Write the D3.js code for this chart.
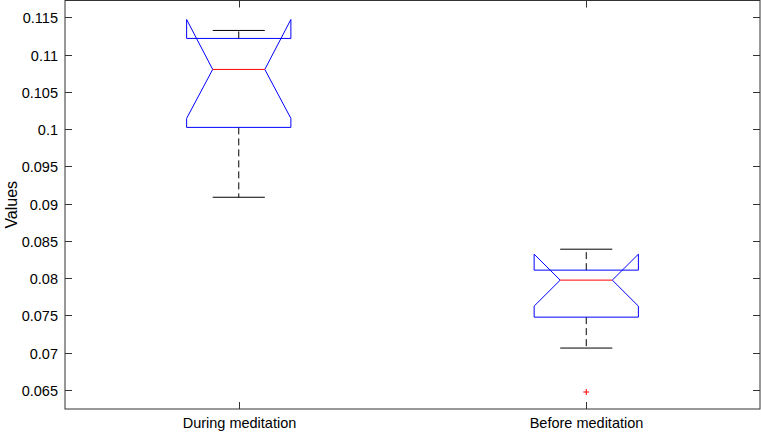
<!DOCTYPE html>
<html>
<head>
  <style>
    body { margin: 0; background: #fff; }
    text { font-family: "Liberation Sans", Arial, sans-serif; }
  </style>
</head>
<body>
  <div id="chart"></div>
  <script src="https://d3js.org/d3.v7.min.js"></script>
  <script>
    // Box statistics
    const categories = ["During meditation", "Before meditation"];
    const q1 = [0.10025, 0.07478];
    const medians = [0.10803, 0.07975];
    const q3 = [0.11219, 0.08109];
    const notchLow = [0.10146, 0.07626];
    const notchHigh = [0.11473, 0.08323];
    const whiskerLow = [0.09087, 0.07063];
    const whiskerHigh = [0.11326, 0.08390];
    const outliers = [[], [0.06473]];
    const yTicks = [0.065, 0.07, 0.075, 0.08, 0.085, 0.09, 0.095, 0.1, 0.105, 0.11, 0.115];

    const width = 761, height = 433;
    const plotLeft = 65, plotRight = 760, plotTop = 0.5, plotBottom = 409;

    const svg = d3.select("#chart")
      .append("svg")
      .attr("width", width)
      .attr("height", height);

    const x = d3.scaleLinear().domain([0.5, 2.5]).range([plotLeft, plotRight]);
    const y = d3.scaleLinear().domain([0.06245, 0.11728]).range([plotBottom, plotTop]);

    const axisColor = "#333";
    const tickLen = 7;

    // Frame
    svg.append("rect")
      .attr("x", plotLeft).attr("y", plotTop)
      .attr("width", plotRight - plotLeft).attr("height", plotBottom - plotTop)
      .attr("fill", "none").attr("stroke", axisColor).attr("stroke-width", 1);

    // Y ticks (left and right, inward)
    const yt = svg.append("g");
    yTicks.forEach(v => {
      const py = Math.round(y(v)) + 0.5;
      yt.append("line").attr("x1", plotLeft).attr("x2", plotLeft + tickLen)
        .attr("y1", py).attr("y2", py).attr("stroke", axisColor);
      yt.append("line").attr("x1", plotRight - tickLen).attr("x2", plotRight)
        .attr("y1", py).attr("y2", py).attr("stroke", axisColor);
      yt.append("text")
        .attr("x", plotLeft - 7).attr("y", py)
        .attr("dy", "0.35em")
        .attr("text-anchor", "end")
        .attr("font-size", 14.5)
        .attr("fill", "#000")
        .text(d3.format("")(v));
    });

    // X ticks (bottom and top, inward)
    categories.forEach((c, i) => {
      const px = Math.round(x(i + 1)) + 0.5;
      svg.append("line").attr("x1", px).attr("x2", px)
        .attr("y1", plotBottom - tickLen).attr("y2", plotBottom).attr("stroke", axisColor);
      svg.append("line").attr("x1", px).attr("x2", px)
        .attr("y1", plotTop).attr("y2", plotTop + tickLen).attr("stroke", axisColor);
      svg.append("text")
        .attr("x", px).attr("y", plotBottom + 19)
        .attr("text-anchor", "middle")
        .attr("font-size", 14.5)
        .attr("fill", "#000")
        .text(c);
    });

    // Y label
    svg.append("text")
      .attr("transform", `translate(17, ${(plotTop + plotBottom) / 2}) rotate(-90)`)
      .attr("text-anchor", "middle")
      .attr("font-size", 16)
      .attr("fill", "#000")
      .text("Values");

    // Boxes
    const boxHalf = 0.15, notchHalf = 0.075, capHalf = 0.075;
    categories.forEach((c, i) => {
      const cx = i + 1;
      const g = svg.append("g");

      // whiskers (dashed)
      [[q3[i], whiskerHigh[i]], [q1[i], whiskerLow[i]]].forEach(([a, b]) => {
        g.append("line")
          .attr("x1", x(cx)).attr("x2", x(cx))
          .attr("y1", y(a)).attr("y2", y(b))
          .attr("stroke", "#000").attr("stroke-dasharray", "7,4");
      });
      // caps
      [whiskerHigh[i], whiskerLow[i]].forEach(v => {
        g.append("line")
          .attr("x1", x(cx - capHalf)).attr("x2", x(cx + capHalf))
          .attr("y1", y(v)).attr("y2", y(v))
          .attr("stroke", "#000");
      });

      // notched box
      const pts = [
        [cx - boxHalf, q1[i]],
        [cx - boxHalf, notchLow[i]],
        [cx - notchHalf, medians[i]],
        [cx - boxHalf, notchHigh[i]],
        [cx - boxHalf, q3[i]],
        [cx + boxHalf, q3[i]],
        [cx + boxHalf, notchHigh[i]],
        [cx + notchHalf, medians[i]],
        [cx + boxHalf, notchLow[i]],
        [cx + boxHalf, q1[i]]
      ];
      g.append("path")
        .attr("d", d3.line().x(d => x(d[0])).y(d => y(d[1]))(pts) + "Z")
        .attr("fill", "none").attr("stroke", "#0000ff");

      // median
      g.append("line")
        .attr("x1", x(cx - notchHalf)).attr("x2", x(cx + notchHalf))
        .attr("y1", y(medians[i])).attr("y2", y(medians[i]))
        .attr("stroke", "#ff0000");

      // outliers as "+" markers
      outliers[i].forEach(v => {
        const ox = x(cx), oy = y(v), s = 3;
        g.append("path")
          .attr("d", `M${ox - s},${oy}H${ox + s}M${ox},${oy - s}V${oy + s}`)
          .attr("stroke", "#ff0000").attr("fill", "none");
      });
    });
  </script>
</body>
</html>
